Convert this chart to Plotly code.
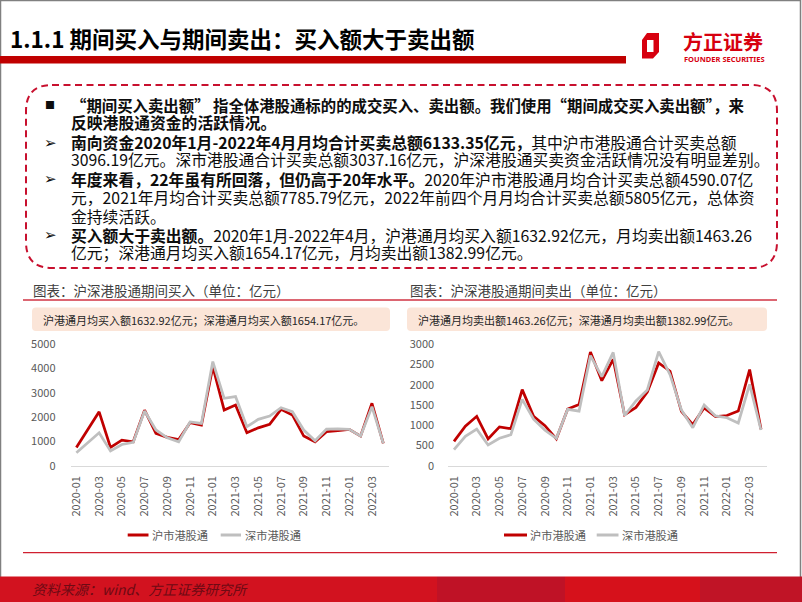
import plotly.graph_objects as go

W, H = 802, 602

months = ["2020-01", "2020-02", "2020-03", "2020-04", "2020-05", "2020-06", "2020-07",
          "2020-08", "2020-09", "2020-10", "2020-11", "2020-12", "2021-01", "2021-02",
          "2021-03", "2021-04", "2021-05", "2021-06", "2021-07", "2021-08", "2021-09",
          "2021-10", "2021-11", "2021-12", "2022-01", "2022-02", "2022-03", "2022-04"]
tick_labels = ["2020-01", "2020-03", "2020-05", "2020-07", "2020-09", "2020-11", "2021-01",
               "2021-03", "2021-05", "2021-07", "2021-09", "2021-11", "2022-01", "2022-03"]

# 期间买入 (亿元)
buy_sh = [750, 1490, 2220, 750, 1050, 985, 2290, 1330, 1165, 1080, 1770, 1670, 4080, 2290,
          2500, 1360, 1560, 1700, 2320, 2090, 1220, 985, 1400, 1440, 1495, 1220, 2570, 920]
buy_sz = [530, 940, 1355, 610, 875, 960, 2250, 1470, 1150, 985, 1800, 1740, 4290, 2775,
          2845, 1605, 1910, 2045, 2390, 2225, 1467, 1025, 1508, 1520, 1495, 1220, 2430, 917]
# 期间卖出 (亿元)
sell_sh = [600, 975, 1220, 660, 960, 915, 1880, 1220, 990, 665, 1400, 1510, 2810, 2100,
           2630, 1260, 1440, 1820, 2540, 2335, 1345, 1015, 1430, 1215, 1240, 1350, 2375, 900]
sell_sz = [395, 725, 905, 511, 677, 765, 1640, 1150, 875, 676, 1394, 1350, 2720, 2200,
           2800, 1240, 1600, 1871, 2818, 2250, 1377, 940, 1500, 1230, 1185, 1055, 2010, 883]

series_names = ["沪市港股通", "深市港股通"]
buy_ticks = [0, 1000, 2000, 3000, 4000, 5000]
sell_ticks = [0, 500, 1000, 1500, 2000, 2500, 3000]

RED = "#c00000"
GRAY = "#bfbfbf"
TXT = "#0d0d0d"
AX = "#595959"
FONT = "Noto Sans CJK SC, Noto Sans, sans-serif"


def X(px):
    return px / W


def Y(py):
    return 1 - py / H


def rrect(x0, y0, x1, y1, r):
    return (f"M {X(x0 + r)},{Y(y0)} L {X(x1 - r)},{Y(y0)} Q {X(x1)},{Y(y0)} {X(x1)},{Y(y0 + r)} "
            f"L {X(x1)},{Y(y1 - r)} Q {X(x1)},{Y(y1)} {X(x1 - r)},{Y(y1)} "
            f"L {X(x0 + r)},{Y(y1)} Q {X(x0)},{Y(y1)} {X(x0)},{Y(y1 - r)} "
            f"L {X(x0)},{Y(y0 + r)} Q {X(x0)},{Y(y0)} {X(x0 + r)},{Y(y0)} Z")


fig = go.Figure()
fig.add_trace(go.Scatter(x=months, y=buy_sh, mode="lines", name=series_names[0],
                         line=dict(color=RED, width=2.75), xaxis="x", yaxis="y"))
fig.add_trace(go.Scatter(x=months, y=buy_sz, mode="lines", name=series_names[1],
                         line=dict(color=GRAY, width=2.75), xaxis="x", yaxis="y"))
fig.add_trace(go.Scatter(x=months, y=sell_sh, mode="lines", name=series_names[0],
                         line=dict(color=RED, width=2.75), xaxis="x2", yaxis="y2"))
fig.add_trace(go.Scatter(x=months, y=sell_sz, mode="lines", name=series_names[1],
                         line=dict(color=GRAY, width=2.75), xaxis="x2", yaxis="y2"))

xcommon = dict(type="category", range=[-0.5, len(months) - 0.5], tickmode="array",
               tickvals=tick_labels, ticktext=tick_labels, tickangle=-90,
               showline=True, linecolor="#d9d9d9", linewidth=1, showgrid=False,
               zeroline=False, ticks="outside", ticklen=5, tickcolor="rgba(0,0,0,0)",
               tickfont=dict(size=11, color=AX, family=FONT), fixedrange=True,
               automargin=False)
ycommon = dict(showgrid=False, zeroline=False, showline=False, ticks="outside",
               tickcolor="rgba(0,0,0,0)", tickfont=dict(size=11, color=AX, family=FONT),
               fixedrange=True, automargin=False)

fig.update_layout(
    width=W, height=H, margin=dict(l=0, r=0, t=0, b=0, pad=0), autosize=False,
    paper_bgcolor="white", plot_bgcolor="white", showlegend=False,
    font=dict(family=FONT, color=TXT),
    xaxis=dict(domain=[X(70.7), X(389)], anchor="y", **xcommon),
    yaxis=dict(domain=[Y(465.7), Y(344.3)], anchor="x", range=[0, 5000],
               tickvals=buy_ticks, ticklen=12, **ycommon),
    xaxis2=dict(domain=[X(448.3), X(766.7)], anchor="y2", **xcommon),
    yaxis2=dict(domain=[Y(465.7), Y(344.3)], anchor="x2", range=[0, 3000],
                tickvals=sell_ticks, ticklen=11, **ycommon),
)

shapes = []
# slide frame
shapes.append(dict(type="rect", xref="paper", yref="paper", x0=X(0.5), x1=X(800.5),
                   y0=Y(601), y1=Y(0.5), line=dict(color="#808080", width=1.5),
                   fillcolor="rgba(0,0,0,0)", layer="above"))
# title bar
shapes.append(dict(type="rect", xref="paper", yref="paper", x0=X(0), x1=X(626),
                   y0=Y(63.5), y1=Y(56), line=dict(width=0), fillcolor=RED))
# logo icon
logo_path = (f"M {X(647)},{Y(33)} L {X(659)},{Y(33)} L {X(659)},{Y(52)} L {X(653)},{Y(58.5)} "
             f"L {X(642)},{Y(58.5)} L {X(642)},{Y(40)} Z")
shapes.append(dict(type="path", xref="paper", yref="paper", path=logo_path,
                   fillcolor="#d7000f", line=dict(width=0)))
shapes.append(dict(type="rect", xref="paper", yref="paper", x0=X(647), x1=X(653.5),
                   y0=Y(52), y1=Y(40), fillcolor="white", line=dict(width=0)))
# dashed rounded text box
shapes.append(dict(type="path", xref="paper", yref="paper", path=rrect(26, 85, 777, 268, 26),
                   line=dict(color="#c8102e", width=2, dash="7px,4.5px"),
                   fillcolor="rgba(0,0,0,0)"))
# chart title underline
shapes.append(dict(type="line", xref="paper", yref="paper", x0=X(23), x1=X(777),
                   y0=Y(300), y1=Y(300), line=dict(color="#dc6672", width=2)))
# peach boxes
shapes.append(dict(type="path", xref="paper", yref="paper", path=rrect(32, 307.5, 390, 331, 4),
                   fillcolor="#fbe5d8", line=dict(width=0)))
shapes.append(dict(type="path", xref="paper", yref="paper", path=rrect(407, 307.5, 767, 331, 4),
                   fillcolor="#fbe5d8", line=dict(width=0)))
# legend keys
for (a, b, c) in [(127.7, 148.5, RED), (220.7, 241, GRAY), (504, 527, RED), (596.7, 618.5, GRAY)]:
    shapes.append(dict(type="line", xref="paper", yref="paper", x0=X(a), x1=X(b),
                       y0=Y(535), y1=Y(535), line=dict(color=c, width=3)))
# bottom red line
shapes.append(dict(type="line", xref="paper", yref="paper", x0=X(23), x1=X(777),
                   y0=Y(552.7), y1=Y(552.7), line=dict(color="#d02030", width=1.2)))
# footer band
for (a, b, c) in [(0, 437, "#d2121f"), (437, 565, "#bf1226"), (565, 700, "#d6111b"),
                  (700, 802, "#c01426")]:
    shapes.append(dict(type="rect", xref="paper", yref="paper", x0=X(a), x1=X(b),
                       y0=Y(602), y1=Y(576.5), fillcolor=c, line=dict(width=0)))

ann = []


def text(px, py, s, size, color=TXT, anchor="left", family=FONT):
    ann.append(dict(xref="paper", yref="paper", x=X(px), y=Y(py), text=s, showarrow=False,
                    xanchor=anchor, yanchor="middle",
                    font=dict(size=size, color=color, family=family)))


# title
text(8, 38, "<b>1.1.1 期间买入与期间卖出：买入额大于卖出额</b>", 22.5, "#000000")
# logo text
text(722.5, 41.3, "<b>方正证券</b>", 20, "#d7000f", "center")
text(724, 59.5, "<b>FOUNDER SECURITIES</b>", 7.5, "#d7000f", "center", "Noto Sans, sans-serif")

# bullets
text(49.5, 104.5, "■", 10, TXT, "center")
for yb in [142.5, 179, 235]:
    text(50.5, yb, "<b>➢</b>", 15, TXT, "center", "DejaVu Sans")

lines = [
    (105, "<b>“期间买入卖出额” 指全体港股通标的的成交买入、卖出额。我们使用“期间成交买入卖出额”，来</b>", 15.4),
    (122, "<b>反映港股通资金的活跃情况。</b>", 15.8),
    (142.5, "<b>南向资金2020年1月-2022年4月月均合计买卖总额6133.35亿元，</b>其中沪市港股通合计买卖总额", 15.8),
    (159.5, "3096.19亿元。深市港股通合计买卖总额3037.16亿元，沪深港股通买卖资金活跃情况没有明显差别。", 15.8),
    (179, "<b>年度来看，22年虽有所回落，但仍高于20年水平。</b>2020年沪市港股通月均合计买卖总额4590.07亿", 15.8),
    (197.5, "元，2021年月均合计买卖总额7785.79亿元，2022年前四个月月均合计买卖总额5805亿元，总体资", 15.8),
    (216, "金持续活跃。", 15.8),
    (235, "<b>买入额大于卖出额。</b>2020年1月-2022年4月，沪港通月均买入额1632.92亿元，月均卖出额1463.26", 15.8),
    (253, "亿元；深港通月均买入额1654.17亿元，月均卖出额1382.99亿元。", 15.8),
]
for yy, s, fs in lines:
    text(69, yy, s, fs, TXT)

# chart titles
text(31, 290, "图表：沪深港股通期间买入（单位：亿元）", 13.5, "#404040")
text(408, 290, "图表：沪深港股通期间卖出（单位：亿元）", 13.5, "#404040")
# peach box notes
text(40.5, 319.5, "沪港通月均买入额1632.92亿元；深港通月均买入额1654.17亿元。", 11, "#262626")
text(416, 319.5, "沪港通月均卖出额1463.26亿元；深港通月均卖出额1382.99亿元。", 11, "#262626")
# legends
for (xx, name) in [(150, series_names[0]), (243, series_names[1]),
                   (528, series_names[0]), (620, series_names[1])]:
    text(xx, 535, name, 11.2, AX)
# footer source
text(30, 589, "<i>资料来源：wind、方正证券研究所</i>", 14, "#6e0a14")

fig.update_layout(shapes=shapes, annotations=ann)
fig.write_html("out.html")
